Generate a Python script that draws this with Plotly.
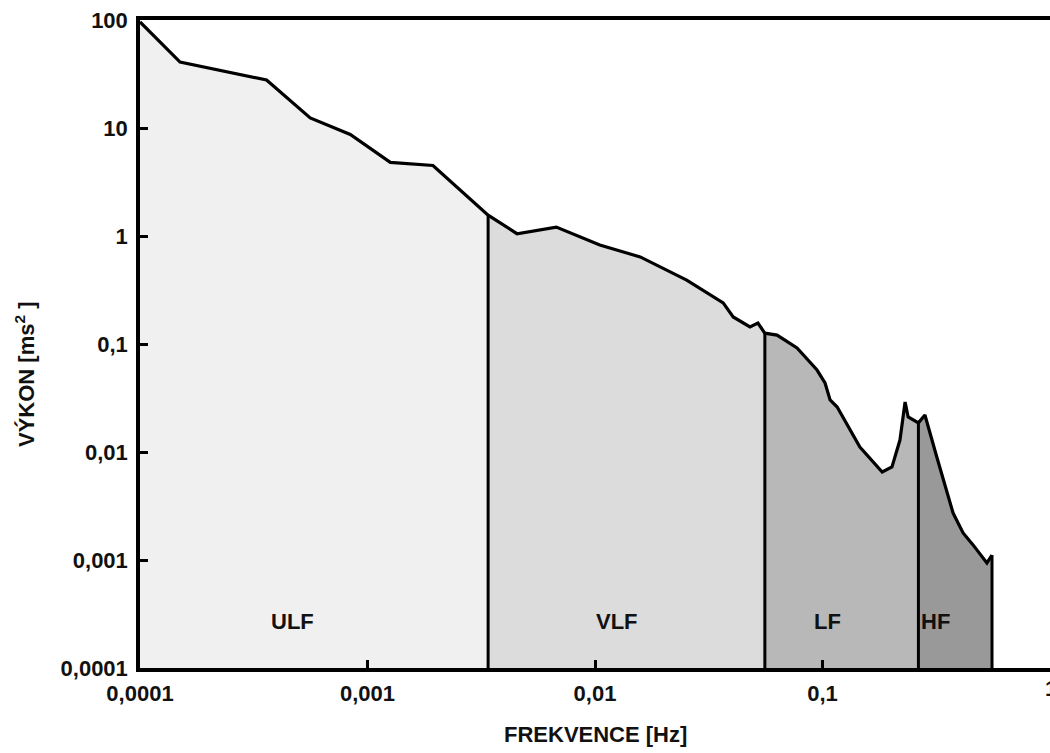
import numpy as np
import plotly.graph_objects as go

# Heart-rate-variability power spectrum (log-log)
freq = [1.0e-4, 1.5e-4, 3.6e-4, 5.6e-4, 8.4e-4, 1.26e-3, 1.94e-3, 3.39e-3,
        4.54e-3, 6.76e-3, 0.0105, 0.0158, 0.0253, 0.0366, 0.0405, 0.0480,
        0.0520, 0.0558, 0.0631, 0.0773, 0.0946, 0.1026, 0.108, 0.116,
        0.146, 0.183, 0.202, 0.219, 0.2307, 0.238, 0.264, 0.282, 0.318,
        0.352, 0.375, 0.415, 0.459, 0.528, 0.556]
power = [96, 40.8, 27.8, 12.4, 8.7, 4.8, 4.5, 1.56,
         1.05, 1.21, 0.826, 0.64, 0.39, 0.24, 0.178, 0.144,
         0.156, 0.126, 0.121, 0.092, 0.0574, 0.0436, 0.0303, 0.0261,
         0.0111, 0.00653, 0.00727, 0.0129, 0.029, 0.0211, 0.0186, 0.022, 0.009,
         0.00417, 0.00272, 0.00178, 0.00138, 0.00094, 0.00111]

band_names = ["ULF", "VLF", "LF", "HF"]
band_edges = [1.0e-4, 3.39e-3, 0.0558, 0.264, 0.556]
band_colors = ["#f0f0f0", "#dcdcdc", "#b8b8b8", "#999999"]
band_label_x = [4.7e-4, 0.0125, 0.1057, 0.313]
band_label_y = 2.67e-4

x_ticks = [1e-4, 1e-3, 1e-2, 1e-1]
x_ticktext = ["0,0001", "0,001", "0,01", "0,1"]
x_last_tick = "1"
y_ticks = [1e-4, 1e-3, 1e-2, 1e-1, 1, 10, 100]
y_ticktext = ["0,0001", "0,001", "0,01", "0,1", "1", "10", "100"]

FLOOR = 1e-4
FONT = "Liberation Sans, Arial, sans-serif"
TXT = dict(size=22, color="#111", family=FONT)

f_arr = np.array(freq)
p_arr = np.array(power)

fig = go.Figure()

# shaded bands under the spectrum
for name, lo, hi, col in zip(band_names, band_edges[:-1], band_edges[1:], band_colors):
    m = (f_arr >= lo) & (f_arr <= hi)
    xs = list(f_arr[m]) + [hi, lo]
    ys = list(p_arr[m]) + [FLOOR, FLOOR]
    fig.add_trace(go.Scatter(x=xs, y=ys, fill="toself", fillcolor=col,
                             mode="none", hoverinfo="skip", name=name))

# band boundaries
for edge in band_edges[1:]:
    top = p_arr[np.argmin(np.abs(f_arr - edge))]
    fig.add_trace(go.Scatter(x=[edge, edge], y=[FLOOR, top], mode="lines",
                             line=dict(color="black", width=3), hoverinfo="skip"))

# spectrum outline
fig.add_trace(go.Scatter(x=freq, y=power, mode="lines",
                         line=dict(color="black", width=3.2)))

for name, lx in zip(band_names, band_label_x):
    fig.add_annotation(x=np.log10(lx), y=np.log10(band_label_y), text=f"<b>{name}</b>",
                       showarrow=False, font=TXT)

# tick label at the right end of the frequency axis (runs off the page edge)
fig.add_annotation(x=1.0, y=(668 - 688) / 648, xref="paper", yref="paper",
                   xanchor="left", yanchor="middle", xshift=-7,
                   text=f"<b>{x_last_tick}</b>", showarrow=False, font=TXT)

fig.add_annotation(x=(595 - 140) / 910, y=(668 - 735) / 648, xref="paper", yref="paper",
                   xanchor="center", yanchor="middle",
                   text="<b>FREKVENCE [Hz]</b>", showarrow=False, font=TXT)
fig.add_annotation(x=(25 - 140) / 910, y=(668 - 374) / 648, xref="paper", yref="paper",
                   xanchor="center", yanchor="middle",
                   text="<b>VÝKON [ms<sup>2</sup> ]</b>", textangle=-90, showarrow=False,
                   font=TXT)

fig.update_xaxes(type="log", range=[-4, 0], showline=True, linecolor="black", linewidth=3.5,
                 mirror=True, ticks="inside", ticklen=8, tickwidth=3, tickcolor="black",
                 tickvals=x_ticks, ticktext=[f"<b>{t}</b>" for t in x_ticktext],
                 tickfont=TXT, ticklabelstandoff=3, showgrid=False, zeroline=False)
fig.update_yaxes(type="log", range=[-4, 2], showline=True, linecolor="black", linewidth=3.5,
                 ticks="inside", ticklen=8, tickwidth=3, tickcolor="black",
                 tickvals=y_ticks, ticktext=[f"<b>{t}</b>" for t in y_ticktext],
                 tickfont=TXT, ticklabelstandoff=4, showgrid=False, zeroline=False)

fig.update_layout(width=1050, height=753, margin=dict(l=140, r=0, t=20, b=85, pad=0),
                  plot_bgcolor="white", paper_bgcolor="white", showlegend=False)

fig.write_html("out.html")
